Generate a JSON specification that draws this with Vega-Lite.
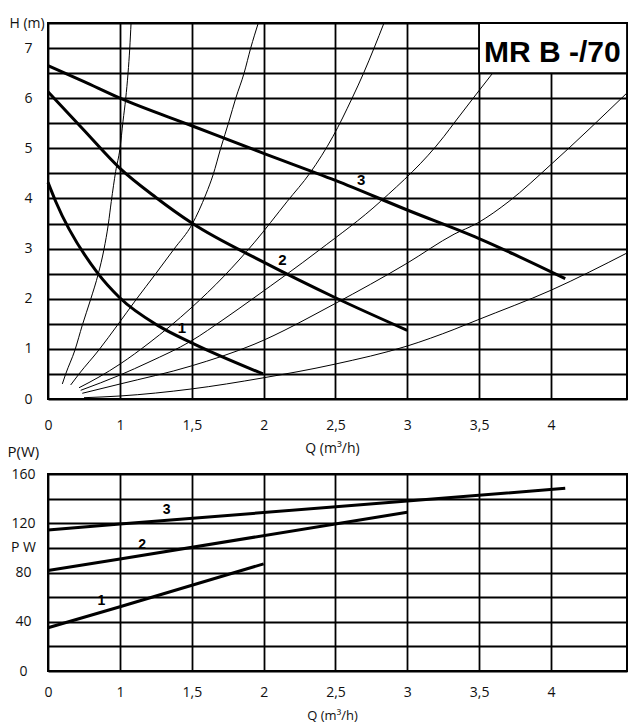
{
"$schema":"https://vega.github.io/schema/vega-lite/v6.json",
"padding":{"left":6,"top":15,"right":13,"bottom":0},
"bounds":"flush",
"spacing":75,
"background":"#ffffff",
"config":{
 "view":{"stroke":"#000","strokeWidth":2},
 "axis":{"gridColor":"#000","gridWidth":1.8,"gridOpacity":1,"labelFont":"Open Sans","titleFont":"Open Sans","labelColor":"#111","titleColor":"#111","labelFontSize":14,"titleFontSize":14,"titleFontWeight":"normal","domain":false,"ticks":false,"tickSize":0,"labelFlush":false,"labelOverlap":false}
},
"datasets":{
 "sys":[
  {"c":"A","q":0.199,"H":0.30},{"c":"A","q":0.246,"H":0.50},{"c":"A","q":0.375,"H":0.98},{"c":"A","q":0.476,"H":1.47},{"c":"A","q":0.593,"H":1.99},{"c":"A","q":0.699,"H":2.50},{"c":"A","q":0.778,"H":2.99},{"c":"A","q":0.838,"H":3.49},{"c":"A","q":0.879,"H":3.94},{"c":"A","q":0.940,"H":4.54},{"c":"A","q":1.0,"H":5.0},{"c":"A","q":1.021,"H":5.54},{"c":"A","q":1.040,"H":6.0},{"c":"A","q":1.056,"H":6.5},{"c":"A","q":1.068,"H":7.0},{"c":"A","q":1.077,"H":7.5},
  {"c":"B","q":0.315,"H":0.28},{"c":"B","q":0.431,"H":0.50},{"c":"B","q":0.708,"H":0.98},{"c":"B","q":0.963,"H":1.47},{"c":"B","q":1.114,"H":1.99},{"c":"B","q":1.249,"H":2.50},{"c":"B","q":1.376,"H":2.99},{"c":"B","q":1.503,"H":3.49},{"c":"B","q":1.55,"H":3.76},{"c":"B","q":1.599,"H":4.09},{"c":"B","q":1.648,"H":4.47},{"c":"B","q":1.701,"H":5.0},{"c":"B","q":1.759,"H":5.54},{"c":"B","q":1.806,"H":6.0},{"c":"B","q":1.864,"H":6.5},{"c":"B","q":1.910,"H":7.0},{"c":"B","q":1.963,"H":7.5},
  {"c":"C","q":0.431,"H":0.225},{"c":"C","q":0.708,"H":0.438},{"c":"C","q":1.0,"H":0.697},{"c":"C","q":1.202,"H":1.116},{"c":"C","q":1.494,"H":1.813},{"c":"C","q":1.724,"H":2.45},{"c":"C","q":1.933,"H":3.114},{"c":"C","q":2.165,"H":3.944},{"c":"C","q":2.323,"H":4.508},{"c":"C","q":2.483,"H":5.239},{"c":"C","q":2.616,"H":6.0},{"c":"C","q":2.696,"H":6.5},{"c":"C","q":2.769,"H":7.0},{"c":"C","q":2.838,"H":7.5},
  {"c":"D","q":0.454,"H":0.173},{"c":"D","q":1.0,"H":0.478},{"c":"D","q":1.202,"H":0.737},{"c":"D","q":1.494,"H":1.155},{"c":"D","q":1.724,"H":1.594},{"c":"D","q":1.933,"H":2.018},{"c":"D","q":2.386,"H":2.968},{"c":"D","q":2.815,"H":3.944},{"c":"D","q":3.256,"H":5.239},{"c":"D","q":3.326,"H":5.504},{"c":"D","q":3.604,"H":6.534},
  {"c":"E","q":0.476,"H":0.114},{"c":"E","q":1.0,"H":0.299},{"c":"E","q":1.494,"H":0.657},{"c":"E","q":1.933,"H":1.090},{"c":"E","q":2.490,"H":1.892},{"c":"E","q":2.999,"H":2.709},{"c":"E","q":3.326,"H":3.287},{"c":"E","q":3.487,"H":3.506},{"c":"E","q":3.709,"H":3.944},{"c":"E","q":4.002,"H":4.681},{"c":"E","q":4.529,"H":6.102},
  {"c":"F","q":0.5,"H":0.026},{"c":"F","q":1.0,"H":0.060},{"c":"F","q":1.494,"H":0.199},{"c":"F","q":1.989,"H":0.418},{"c":"F","q":2.490,"H":0.691},{"c":"F","q":2.999,"H":1.056},{"c":"F","q":3.326,"H":1.388},{"c":"F","q":3.487,"H":1.574},{"c":"F","q":4.002,"H":2.171},{"c":"F","q":4.531,"H":2.914}
 ],
 "pump":[
  {"s":"1","q":0,"H":4.32},{"s":"1","q":0.107,"H":3.94},{"s":"1","q":0.685,"H":2.52},{"s":"1","q":0.996,"H":2.02},{"s":"1","q":1.271,"H":1.454},{"s":"1","q":1.499,"H":1.12},{"s":"1","q":1.996,"H":0.5},
  {"s":"2","q":0,"H":6.13},{"s":"2","q":0.5,"H":5.36},{"s":"2","q":1,"H":4.6},{"s":"2","q":1.25,"H":4.02},{"s":"2","q":1.5,"H":3.51},{"s":"2","q":2,"H":2.73},{"s":"2","q":2.5,"H":2.02},{"s":"2","q":3,"H":1.37},
  {"s":"3","q":0,"H":6.65},{"s":"3","q":0.5,"H":6.33},{"s":"3","q":1,"H":6.0},{"s":"3","q":1.5,"H":5.45},{"s":"3","q":2,"H":4.9},{"s":"3","q":2.5,"H":4.36},{"s":"3","q":3,"H":3.77},{"s":"3","q":3.5,"H":3.2},{"s":"3","q":4.1,"H":2.4}
 ],
 "pumpLabels":[{"t":"1","q":1.431,"H":1.41},{"t":"2","q":2.13,"H":2.78},{"t":"3","q":2.68,"H":4.36}],
 "box":[{"q":3.5,"q2":4.53,"H":6.5,"H2":7.5}],
 "boxText":[{"t":"MR B -/70","q":4.01,"H":6.91}],
 "power":[
  {"s":"1","q":0,"P":35.1},{"s":"1","q":1,"P":52.2},{"s":"1","q":2,"P":87.0},
  {"s":"2","q":0,"P":81.6},{"s":"2","q":1,"P":91.0},{"s":"2","q":3,"P":128.9},
  {"s":"3","q":0,"P":114.6},{"s":"3","q":1,"P":119.3},{"s":"3","q":4.1,"P":148.4}
 ],
 "powerLabels":[{"t":"1","q":0.74,"P":57.2},{"t":"2","q":1.155,"P":102.7},{"t":"3","q":1.325,"P":131.1}]
},
"vconcat":[
 {
  "width":579,"height":376,
  "encoding":{
   "x":{"field":"q","type":"quantitative","scale":{"domain":[0,1,4.53],"range":[0,72,579],"nice":false,"zero":false},
        "axis":{"values":[0,1,1.5,2,2.5,3,3.5,4],"labelExpr":"replace(toString(datum.value), '.', ',')","title":"Q (m³/h)","labelPadding":19,"titleX":284,"titleY":49,"titleAlign":"center","titleBaseline":"middle"}},
   "y":{"field":"H","type":"quantitative","scale":{"domain":[0,7.5],"nice":false,"zero":false},
        "axis":{"values":[0,0.5,1,1.5,2,2.5,3,3.5,4,4.5,5,5.5,6,6.5,7,7.5],"labelExpr":"datum.value % 1 == 0 ? toString(datum.value) : ''","title":"H (m)","titleAngle":0,"titleX":-39,"titleY":0,"titleAlign":"left","titleBaseline":"middle","labelPadding":16,"labelAlign":"right"}}
  },
  "layer":[
   {"data":{"name":"sys"},"mark":{"type":"line","interpolate":"monotone","strokeWidth":1,"color":"#000","clip":true},"encoding":{"detail":{"field":"c"}}},
   {"data":{"name":"pump"},"mark":{"type":"line","interpolate":"monotone","strokeWidth":3,"color":"#000"},"encoding":{"detail":{"field":"s"}}},
   {"data":{"name":"pumpLabels"},"mark":{"type":"text","font":"Liberation Sans","fontWeight":"bold","fontSize":15,"color":"#000"},"encoding":{"text":{"field":"t"}}},
   {"data":{"name":"box"},"mark":{"type":"rect","fill":"#fff","stroke":"#000","strokeWidth":1.8},"encoding":{"x2":{"field":"q2"},"y2":{"field":"H2"}}},
   {"data":{"name":"boxText"},"mark":{"type":"text","font":"Liberation Sans","fontWeight":"bold","fontSize":30,"color":"#000"},"encoding":{"text":{"field":"t"}}}
  ]
 },
 {
  "width":579,"height":197,
  "encoding":{
   "x":{"field":"q","type":"quantitative","scale":{"domain":[0,1,4.53],"range":[0,72,579],"nice":false,"zero":false},
        "axis":{"values":[0,1,1.5,2,2.5,3,3.5,4],"labelExpr":"replace(toString(datum.value), '.', ',')","title":"Q (m³/h)","labelPadding":14,"titleX":284,"titleY":44,"titleAlign":"center","titleBaseline":"middle","titleFontSize":13}},
   "y":{"field":"P","type":"quantitative","scale":{"domain":[0,160],"nice":false,"zero":false},
        "axis":{"values":[0,20,40,60,80,100,120,140,160],"labelExpr":"datum.value == 100 ? 'P W' : (datum.value % 40 == 0 ? toString(datum.value) : '')","title":"P(W)","titleAngle":0,"titleX":-41,"titleY":-23,"titleAlign":"left","titleBaseline":"middle","titleFontSize":15,"labelPadding":25,"labelAlign":"center"}}
  },
  "layer":[
   {"data":{"name":"power"},"mark":{"type":"line","strokeWidth":3,"color":"#000"},"encoding":{"detail":{"field":"s"}}},
   {"data":{"name":"powerLabels"},"mark":{"type":"text","font":"Liberation Sans","fontWeight":"bold","fontSize":14,"color":"#000"},"encoding":{"text":{"field":"t"}}}
  ]
 }
]
}
